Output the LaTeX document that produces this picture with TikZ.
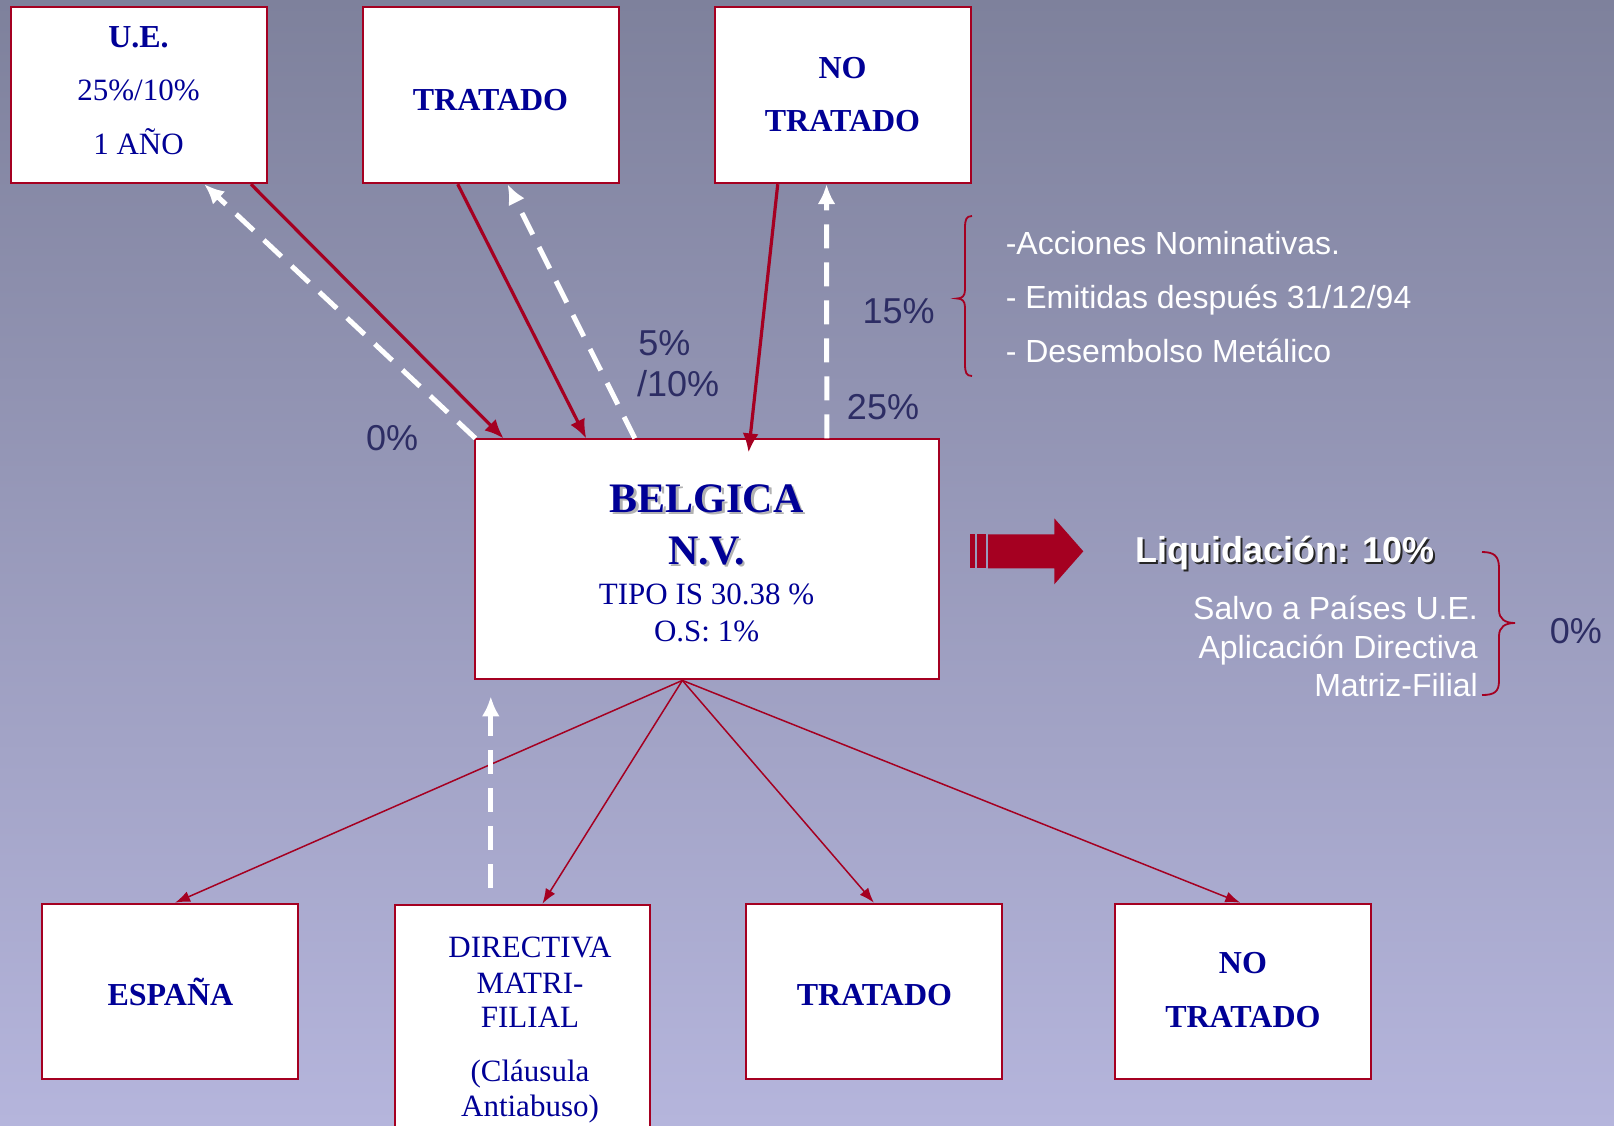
\documentclass[tikz,border=0pt]{standalone}
\usepackage{fontspec}
\setmainfont{Liberation Serif}
\newfontfamily\arial{Liberation Sans}
\usetikzlibrary{arrows.meta,calc}
\definecolor{bgtop}{RGB}{126,129,156}
\definecolor{bgbot}{RGB}{181,181,220}
\definecolor{dred}{RGB}{165,0,33}
\definecolor{navy}{RGB}{0,0,150}
\definecolor{lbl}{RGB}{45,45,100}
\begin{document}
\begin{tikzpicture}[x=1pt,y=-1pt,
 box/.style={draw=dred,line width=2pt,fill=white,inner sep=0pt},
 bt/.style={text=navy,font={\fontsize{31}{31}\selectfont},anchor=base,inner sep=0pt},
 btb/.style={bt,font={\fontsize{32}{32}\selectfont\bfseries}},
 belb/.style={bt,font={\fontsize{42}{42}\selectfont\bfseries}},
 lab/.style={text=lbl,font={\arial\fontsize{36}{36}\selectfont},anchor=base,inner sep=0pt},
 wt/.style={text=white,font={\arial\fontsize{32}{32}\selectfont},anchor=base west,inner sep=0pt},
 liq/.style={text=white,font={\arial\fontsize{36}{36}\selectfont\bfseries},anchor=base west,inner sep=0pt},
 redarr/.style={draw=dred,line width=3.2pt,-{Latex[length=19pt,width=16pt]}},
 thinarr/.style={draw=dred,line width=1.5pt,-{Latex[length=15pt,width=11pt]}},
 wdash/.style={draw=white,line width=5pt,dash pattern=on 24pt off 14pt,-{Latex[length=20pt,width=18pt]}},
 bracestyle/.style={draw=dred,line width=1.8pt}
]
\shade[top color=bgtop,bottom color=bgbot] (0,0) rectangle (1614,1125);
\useasboundingbox (0,0) rectangle (1614,1125);

% top boxes
\node[box,minimum width=256pt,minimum height=176pt] (ue) at (138.5,95.2) {};
\node[box,minimum width=256pt,minimum height=176pt] (tra) at (490.5,95.2) {};
\node[box,minimum width=256pt,minimum height=176pt] (ntr) at (842.5,95.2) {};
% central box
\node[box,minimum width=464pt,minimum height=240pt] (bel) at (706.6,559.4) {};
% bottom boxes
\node[box,minimum width=256pt,minimum height=175pt] (esp) at (170.4,991.2) {};
\node[box,minimum width=255pt,minimum height=250pt,anchor=north] (dir) at (522.9,903.7) {};
\node[box,minimum width=256pt,minimum height=175pt] (trb) at (874.4,991.2) {};
\node[box,minimum width=256pt,minimum height=175pt] (ntb) at (1242.9,991.2) {};

% box texts
\node[btb] (t-ue1) at (138.5,47.3) {U.E.};
\node[bt] (t-ue2) at (138.5,100.9) {25\%/10\%};
\node[bt] (t-ue3) at (138.5,154.4) {1 AÑO};
\node[btb] (t-tra) at (490.5,110) {TRATADO};
\node[btb] (t-ntr1) at (842.5,78.2) {NO};
\node[btb] (t-ntr2) at (842.5,131.7) {TRATADO};

\node[belb,text=black!30] (s-bel1) at (709,514.5) {BELGICA};
\node[belb] (t-bel1) at (706.6,512.5) {BELGICA};
\node[belb,text=black!30] (s-bel2) at (709,566) {N.V.};
\node[belb] (t-bel2) at (706.6,564) {N.V.};
\node[bt] (t-bel3) at (706.6,604) {TIPO IS 30.38 \%};
\node[bt] (t-bel4) at (706.6,641) {O.S: 1\%};

\node[btb] (t-esp) at (170.4,1005.6) {ESPAÑA};
\node[bt] (t-dir1) at (530,957.2) {DIRECTIVA};
\node[bt] (t-dir2) at (530,993.3) {MATRI-};
\node[bt] (t-dir3) at (530,1027.2) {FILIAL};
\node[bt] (t-dir4) at (530,1081.8) {(Cláusula};
\node[bt] (t-dir5) at (530,1116.8) {Antiabuso)};
\node[btb] (t-trb) at (874.4,1005.6) {TRATADO};
\node[btb] (t-ntb1) at (1242.9,973.7) {NO};
\node[btb] (t-ntb2) at (1242.9,1027.2) {TRATADO};

% connectors top
\draw[redarr] ($(ue.south west)!0.936!(ue.south east)$) -- ($(bel.north west)!0.0644!(bel.north east)$);
\draw[wdash] ($(bel.north west)!0.004!(bel.north east)$) -- ($(ue.south west)!0.755!(ue.south east)$);
\draw[redarr] ($(tra.south west)!0.373!(tra.south east)$) -- ($(bel.north west)!0.2417!(bel.north east)$);
\draw[wdash] ($(bel.north west)!0.346!(bel.north east)$) -- ($(tra.south west)!0.566!(tra.south east)$);
\draw[redarr] ($(ntr.south west)!0.249!(ntr.south east)$) -- ($(bel.north west)!0.59!(bel.north east)+(0,14)$);
\draw[wdash] ($(bel.north west)!0.758!(bel.north east)$) -- ($(ntr.south west)!0.438!(ntr.south east)$);

% connectors bottom
\coordinate (belbot) at ($(bel.south west)!0.448!(bel.south east)$);
\draw[thinarr] (belbot) -- ($(esp.north west)!0.518!(esp.north east)$);
\draw[thinarr] (belbot) -- ($(dir.north west)!0.576!(dir.north east)$);
\draw[thinarr] (belbot) -- ($(trb.north west)!0.498!(trb.north east)$);
\draw[thinarr] (belbot) -- ($(ntb.north west)!0.49!(ntb.north east)$);
\coordinate (dirtop) at ($(dir.north west)!0.375!(dir.north east)$);
\draw[wdash] ($(dirtop)+(0,-16)$) -- ($(dirtop |- bel.south)+(0,16)$);

% labels
\node[lab] (l0) at (392.2,450.8) {0\%};
\node[lab,anchor=base west] (l5) at (638.2,355) {5\%};
\node[lab,anchor=base west] (l10) at (637,396.3) {/10\%};
\node[lab] (l25) at (883,419) {25\%};
\node[lab] (l15) at (898.6,323.2) {15\%};
\node[lab] (l0b) at (1575.9,643.3) {0\%};

% left brace and list
\draw[bracestyle] (972,216) .. controls (966,216) and (965,220) .. (965,228) -- (965,290)
  .. controls (965,296) and (962,298.5) .. (957,298.5)
  .. controls (962,298.5) and (965,301) .. (965,307) -- (965,364)
  .. controls (965,372) and (966,376) .. (972,376);
\node[wt] (w1) at (1005.6,254.2) {-Acciones Nominativas.};
\node[wt] (w2) at (1005.6,308.8) {- Emitidas después 31/12/94};
\node[wt] (w3) at (1005.6,362.3) {- Desembolso Metálico};

% block arrow
\fill[dred] (988,534.3) -- (1054.3,534.3) -- (1054.3,518.3) -- (1083.3,551.3) -- (1054.3,584.3) -- (1054.3,568.3) -- (988,568.3) -- cycle;
\fill[dred] (970,534.3) rectangle (975.3,568.3);
\fill[dred] (977.3,534.3) rectangle (986,568.3);

% liquidacion
\node[liq,text=black!85] (s-liq) at (1137.3,564) {Liquidación: 10\%};
\node[liq] (t-liq) at (1135.3,562) {Liquidación: 10\%};
\node[wt,anchor=base east] (r1) at (1478,619.6) {Salvo a Países U.E.};
\node[wt,anchor=base east] (r2) at (1478,658.8) {Aplicación Directiva};
\node[wt,anchor=base east] (r3) at (1478,696.8) {Matriz-Filial};
\draw[bracestyle] (1482,552) .. controls (1494,552) and (1499,556) .. (1499,568) -- (1499,610)
  .. controls (1499,619) and (1505,623) .. (1515,623)
  .. controls (1505,623) and (1499,627) .. (1499,636) -- (1499,681)
  .. controls (1499,692) and (1494,695) .. (1482,695);
\end{tikzpicture}
\end{document}
